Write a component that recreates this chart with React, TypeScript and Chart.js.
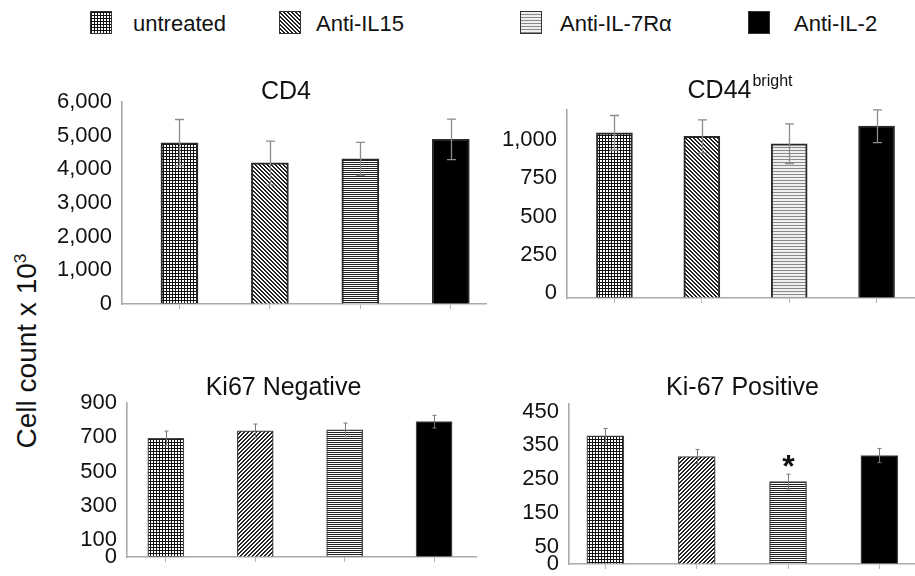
import React, { useEffect, useRef } from 'react';
import { Chart, registerables } from 'chart.js';

Chart.register(...registerables);

const FONT = '"Liberation Sans", Arial, Helvetica, sans-serif';

// ---------- data ----------
const groups = ['untreated', 'Anti-IL15', 'Anti-IL-7R\u03b1', 'Anti-IL-2'];
const categoryIndex = [0, 1, 2, 3];

const cd4Values = [4790, 4190, 4310, 4890];
const cd4Errors = [690, 650, 490, 600];
const cd4Ticks = [0, 1000, 2000, 3000, 4000, 5000, 6000];
const cd4Max = 6000;

const cd44Values = [1081, 1057, 1009, 1124];
const cd44Errors = [113, 109, 130, 107];
const cd44Ticks = [0, 250, 500, 750, 1000];
const cd44Max = 1230;

const ki67NegValues = [694, 737, 743, 791];
const ki67NegErrors = [42, 40, 40, 37];
const ki67NegTicks = [0, 100, 300, 500, 700, 900];
const ki67NegMax = 900;

const ki67PosValues = [378, 317, 243, 320];
const ki67PosErrors = [22, 21, 22, 21];
const ki67PosTicks = [0, 50, 150, 250, 350, 450];
const ki67PosMax = 472;
const ki67PosMarks = ['', '', '*', ''];

const categoryBoundaries = [0.5, 1.5, 2.5];

type PatternKind = 'grid' | 'diagDown' | 'diagUp' | 'horiz' | 'horizLight' | 'solid';

function makeFill(kind: PatternKind): string | CanvasPattern {
  if (kind === 'solid') return '#000';
  let w = 3;
  let h = 3;
  let fn: (x: number, y: number) => string = () => '#fff';
  if (kind === 'grid') {
    w = 3; h = 3;
    fn = (x, y) => (x === 0 || y === 0 ? '#111' : '#fff');
  } else if (kind === 'diagDown') {
    w = 4; h = 4;
    fn = (x, y) => ((x - y + 8) % 4 < 2 ? '#222' : '#fff');
  } else if (kind === 'diagUp') {
    w = 4; h = 4;
    fn = (x, y) => ((x + y) % 4 < 2 ? '#222' : '#fff');
  } else if (kind === 'horiz') {
    w = 1; h = 2;
    fn = (_x, y) => (y === 0 ? '#222' : '#fff');
  } else if (kind === 'horizLight') {
    w = 1; h = 3;
    fn = (_x, y) => (y === 0 ? '#8a8a8a' : '#efefef');
  }
  const c = document.createElement('canvas');
  c.width = w;
  c.height = h;
  const g = c.getContext('2d')!;
  for (let y = 0; y < h; y++) {
    for (let x = 0; x < w; x++) {
      g.fillStyle = fn(x, y);
      g.fillRect(x, y, 1, 1);
    }
  }
  const p = g.createPattern(c, 'repeat');
  return p || '#888';
}

// ---------- plugins ----------
const titlePlugin = {
  id: 'panelTitle',
  afterDraw(chart: any, _args: any, opts: any) {
    const ctx: CanvasRenderingContext2D = chart.ctx;
    ctx.save();
    ctx.fillStyle = '#111';
    ctx.textBaseline = 'alphabetic';
    ctx.textAlign = 'left';
    ctx.font = `${opts.size}px ${FONT}`;
    const w1 = ctx.measureText(opts.text).width;
    let w2 = 0;
    if (opts.sup) {
      ctx.font = `${opts.supSize}px ${FONT}`;
      w2 = ctx.measureText(opts.sup).width + 1;
    }
    const x0 = opts.x - (w1 + w2) / 2;
    ctx.font = `${opts.size}px ${FONT}`;
    ctx.fillText(opts.text, x0, opts.y);
    if (opts.sup) {
      ctx.font = `${opts.supSize}px ${FONT}`;
      ctx.fillText(opts.sup, x0 + w1 + 1, opts.y - opts.supRaise);
    }
    ctx.restore();
  },
};

const errorPlugin = {
  id: 'errorBars',
  afterDatasetsDraw(chart: any, _args: any, opts: any) {
    const ctx: CanvasRenderingContext2D = chart.ctx;
    const meta = chart.getDatasetMeta(0);
    const yScale = chart.scales.y;
    const values: number[] = opts.values;
    const errors: number[] = opts.errors;
    const marks: string[] = opts.marks || [];
    ctx.save();
    ctx.strokeStyle = opts.color;
    ctx.lineWidth = opts.width;
    meta.data.forEach((bar: any, i: number) => {
      const x = Math.round(bar.x) + 0.5;
      const yTop = yScale.getPixelForValue(values[i] + errors[i]);
      const yBot = yScale.getPixelForValue(values[i] - errors[i]);
      const cw = opts.cap / 2;
      ctx.beginPath();
      ctx.moveTo(x, yTop);
      ctx.lineTo(x, yBot);
      ctx.moveTo(x - cw, yTop);
      ctx.lineTo(x + cw, yTop);
      ctx.moveTo(x - cw, yBot);
      ctx.lineTo(x + cw, yBot);
      ctx.stroke();
      if (marks[i]) {
        ctx.fillStyle = '#111';
        ctx.font = `bold 32px ${FONT}`;
        ctx.textAlign = 'center';
        ctx.textBaseline = 'alphabetic';
        ctx.fillText(marks[i], x, yTop + 3);
      }
    });
    ctx.restore();
  },
};

// ---------- panel specs ----------
type PanelSpec = {
  left: number; top: number; w: number; h: number; padTop: number;
  title: string; sup?: string; titleX: number; titleY: number;
  values: number[]; errors: number[]; marks?: string[];
  ticks: number[]; yMax: number; xMin: number; xMax: number;
  patterns: PatternKind[]; barThickness: number;
  borderColor: string; borderWidth: number;
  errColor: string; errWidth: number; cap: number; labelOffset: number;
};

const AXIS_H = 24;

const panels: PanelSpec[] = [
  {
    left: 22, top: 60, w: 465, h: 268, padTop: 42,
    title: 'CD4', titleX: 264, titleY: 38.5,
    values: cd4Values, errors: cd4Errors, ticks: cd4Ticks, yMax: cd4Max,
    xMin: -0.635, xMax: 3.4,
    patterns: ['grid', 'diagDown', 'horiz', 'solid'], barThickness: 37,
    borderColor: '#2a2a2a', borderWidth: 2, errColor: '#8c8c8c', errWidth: 1.3, cap: 9, labelOffset: 0,
  },
  {
    left: 467, top: 60, w: 448, h: 262, padTop: 50,
    title: 'CD44', sup: 'bright', titleX: 273, titleY: 38,
    values: cd44Values, errors: cd44Errors, ticks: cd44Ticks, yMax: cd44Max,
    xMin: -0.543, xMax: 3.44,
    patterns: ['grid', 'diagDown', 'horizLight', 'solid'], barThickness: 36,
    borderColor: '#2a2a2a', borderWidth: 2, errColor: '#8c8c8c', errWidth: 1.3, cap: 9, labelOffset: -5,
  },
  {
    left: 27, top: 340, w: 450, h: 241, padTop: 63,
    title: 'Ki67 Negative', titleX: 256.5, titleY: 55,
    values: ki67NegValues, errors: ki67NegErrors, ticks: ki67NegTicks, yMax: ki67NegMax,
    xMin: -0.434, xMax: 3.48,
    patterns: ['grid', 'diagUp', 'horiz', 'solid'], barThickness: 36,
    borderColor: '#444', borderWidth: 1.3, errColor: '#777', errWidth: 1, cap: 4, labelOffset: 0,
  },
  {
    left: 469, top: 340, w: 446, h: 248, padTop: 64,
    title: 'Ki-67 Positive', titleX: 273.5, titleY: 55,
    values: ki67PosValues, errors: ki67PosErrors, marks: ki67PosMarks, ticks: ki67PosTicks, yMax: ki67PosMax,
    xMin: -0.398, xMax: 3.39,
    patterns: ['grid', 'diagUp', 'horiz', 'solid'], barThickness: 37,
    borderColor: '#444', borderWidth: 1.3, errColor: '#777', errWidth: 1, cap: 4, labelOffset: 0,
  },
];

function Panel({ spec }: { spec: PanelSpec }) {
  const ref = useRef<HTMLCanvasElement>(null);
  useEffect(() => {
    const canvas = ref.current;
    if (!canvas) return;
    const fills = spec.patterns.map((p) => makeFill(p));
    const chart = new Chart(canvas, {
      type: 'bar',
      data: {
        datasets: [
          {
            label: spec.title,
            data: categoryIndex.map((i) => ({ x: i, y: spec.values[i] })) as any,
            backgroundColor: fills as any,
            borderColor: spec.borderColor,
            borderWidth: spec.borderWidth,
            barThickness: spec.barThickness,
          },
        ],
      },
      options: {
        animation: false,
        responsive: false,
        devicePixelRatio: 1,
        events: [],
        layout: { padding: { top: spec.padTop, right: 0, left: 0, bottom: 0 } },
        plugins: {
          legend: { display: false },
          tooltip: { enabled: false },
          title: { display: false },
          panelTitle: {
            text: spec.title, sup: spec.sup || '', x: spec.titleX, y: spec.titleY,
            size: 25, supSize: 16, supRaise: 12,
          },
          errorBars: {
            values: spec.values, errors: spec.errors, marks: spec.marks || [],
            color: spec.errColor, width: spec.errWidth, cap: spec.cap,
          },
        } as any,
        scales: {
          x: {
            type: 'linear',
            min: spec.xMin,
            max: spec.xMax,
            offset: false,
            afterBuildTicks: (s: any) => {
              s.ticks = categoryBoundaries.map((v) => ({ value: v }));
            },
            afterFit: (s: any) => {
              s.height = AXIS_H;
            },
            ticks: { display: false },
            grid: { drawOnChartArea: false, drawTicks: true, tickLength: 5, color: '#b5b5b5', lineWidth: 1 },
            border: { display: true, color: '#aaaaaa', width: 1.6 },
          },
          y: {
            type: 'linear',
            min: 0,
            max: spec.yMax,
            afterBuildTicks: (s: any) => {
              s.ticks = spec.ticks.map((v) => ({ value: v }));
            },
            afterFit: (s: any) => {
              s.width = 100;
            },
            ticks: {
              font: { family: FONT, size: 22 },
              color: '#111',
              padding: 10,
              labelOffset: spec.labelOffset,
              callback: (v: any) => Number(v).toLocaleString('en-US'),
            },
            grid: { display: true, drawOnChartArea: false, drawTicks: false },
            border: { display: true, color: '#aaaaaa', width: 1.6 },
          },
        } as any,
      },
      plugins: [titlePlugin, errorPlugin],
    });
    return () => chart.destroy();
  }, [spec]);
  return (
    <canvas
      ref={ref}
      width={spec.w}
      height={spec.h}
      style={{ position: 'absolute', left: spec.left, top: spec.top, width: spec.w, height: spec.h }}
    />
  );
}

const swatchStyles: React.CSSProperties[] = [
  {
    backgroundColor: '#fff',
    backgroundImage: 'linear-gradient(#111 1px, transparent 1px), linear-gradient(90deg, #111 1px, transparent 1px)',
    backgroundSize: '3px 3px',
  },
  {
    backgroundColor: '#fff',
    backgroundImage: 'repeating-linear-gradient(45deg, #222 0px, #222 1.4px, #fff 1.4px, #fff 2.8px)',
  },
  {
    backgroundColor: '#eee',
    backgroundImage: 'repeating-linear-gradient(0deg, #8a8a8a 0px, #8a8a8a 1px, #efefef 1px, #efefef 3px)',
  },
  { backgroundColor: '#000' },
];
const legendSwatchX = [90, 279, 520, 748];
const legendTextX = [133, 316, 560, 794];

export default function App() {
  return (
    <div
      style={{
        position: 'absolute', left: 0, top: 0, width: 915, height: 576,
        background: '#fff', fontFamily: FONT, color: '#111', overflow: 'hidden',
      }}
    >
      {groups.map((g, i) => (
        <React.Fragment key={g}>
          <div
            style={{
              position: 'absolute', left: legendSwatchX[i], top: 11, width: 22, height: 23,
              border: '1px solid #333', boxSizing: 'border-box', ...swatchStyles[i],
            }}
          />
          <div
            style={{
              position: 'absolute', left: legendTextX[i], top: 13, fontSize: 22, lineHeight: '22px',
              whiteSpace: 'nowrap',
            }}
          >
            {g}
          </div>
        </React.Fragment>
      ))}
      <div
        style={{
          position: 'absolute', left: 27, top: 351, fontSize: 28, lineHeight: '30px', whiteSpace: 'nowrap',
          transform: 'translate(-50%, -50%) rotate(-90deg)',
        }}
      >
        Cell count x 10<sup style={{ fontSize: '0.62em', verticalAlign: '0.55em', lineHeight: 0 }}>3</sup>
      </div>
      {panels.map((p, i) => (
        <Panel key={i} spec={p} />
      ))}
    </div>
  );
}
